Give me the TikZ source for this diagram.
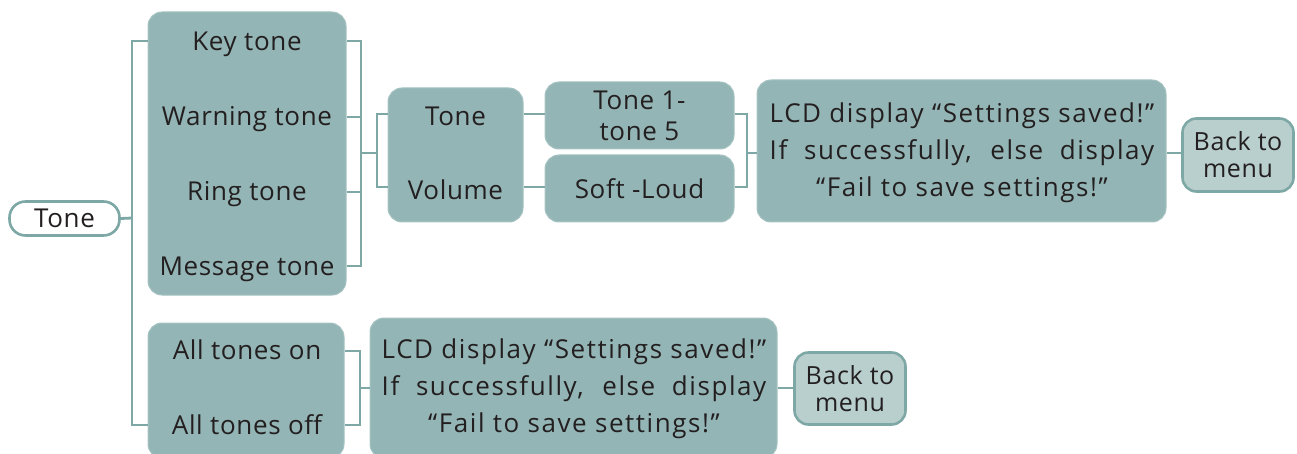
\documentclass[tikz,border=0pt]{standalone}
\usepackage{fontspec}
\setmainfont[LetterSpace=2.5]{Open Sans}
\newfontfamily\lcdfont[LetterSpace=6]{Open Sans}
\definecolor{boxfill}{RGB}{148,181,181}
\definecolor{boxedge}{RGB}{165,195,194}
\definecolor{lnc}{RGB}{125,168,165}
\definecolor{backfill}{RGB}{185,207,206}
\definecolor{txt}{RGB}{35,31,32}
\newlength\lcdw
\begin{document}
\settowidth\lcdw{\lcdfont\fontsize{26}{37}\selectfont LCD display “Settings saved!”}%
\begin{tikzpicture}[x=1pt,y=-1pt,
  conn/.style={draw=lnc,line width=2.8pt},
  menubox/.style={fill=boxfill,draw=boxedge,line width=1pt,rounded corners=14pt,inner sep=0pt},
  backbox/.style={fill=backfill,draw=lnc,line width=2.6pt,rounded corners=14pt,inner sep=0pt,
    align=center,text=txt,font=\fontsize{25}{27}\selectfont},
  rootbox/.style={fill=white,draw=lnc,line width=2.6pt,rounded corners=16pt,inner sep=0pt,
    text=txt,font=\fontsize{26}{27}\selectfont},
  lbl/.style={text=txt,font=\fontsize{26}{27}\selectfont,inner sep=0pt,anchor=base},
  mlbl/.style={text=txt,inner sep=0pt,align=center}]
\useasboundingbox (0,0) rectangle (1297,454);
\clip (0,0) rectangle (1297,454);
% boxes
\node[rootbox,minimum width=110pt,minimum height=34pt] (root) at (64.5,218.5) {Tone};
\node[menubox,minimum width=198pt,minimum height=283pt] (b1) at (247,153.5) {};
\node[menubox,minimum width=196pt,minimum height=135pt] (b2) at (246,390.5) {};
\node[menubox,minimum width=135pt,minimum height=134pt] (b3) at (455.5,155) {};
\node[menubox,minimum width=189pt,minimum height=67pt,mlbl,font=\fontsize{26}{31}\selectfont] (b4) at (639.5,115.5) {Tone 1-\\tone 5};
\node[menubox,minimum width=189pt,minimum height=67pt,text=txt,font=\fontsize{26}{27}\selectfont] (b5) at (639.5,188.5) {Soft -Loud};
\node[menubox,minimum width=409pt,minimum height=142pt] (b6) at (961.5,151) {};
\node[mlbl,font=\lcdfont\fontsize{26}{37}\selectfont] (t6) at (962,153)
  {LCD display “Settings saved!”\\\makebox[\lcdw][s]{If successfully, else display}\\“Fail to save settings!”};
\node[backbox,minimum width=111pt,minimum height=73pt] (bk1) at (1238,155) {Back to\\menu};
\node[menubox,minimum width=407pt,minimum height=140pt] (b7) at (573.5,388) {};
\node[mlbl,font=\lcdfont\fontsize{26}{37}\selectfont] (t7) at (574,389)
  {LCD display “Settings saved!”\\\makebox[\lcdw][s]{If successfully, else display}\\“Fail to save settings!”};
\node[backbox,minimum width=111pt,minimum height=72pt] (bk2) at (850,388.5) {Back to\\menu};
% labels
\node[lbl] (l1) at (247,51) {Key tone};
\node[lbl] (l2) at (247,126) {Warning tone};
\node[lbl] (l3) at (247,201) {Ring tone};
\node[lbl] (l4) at (247,275) {Message tone};
\node[lbl] (l5) at (247,359) {All tones on};
\node[lbl] (l6) at (247,434) {All tones off};
\node[lbl] (l7) at (455.5,126) {Tone};
\node[lbl] (l8) at (455.5,200) {Volume};
% row coordinates
\coordinate (y1) at (0,41);
\coordinate (y2) at (0,117);
\coordinate (y3) at (0,192);
\coordinate (y4) at (0,266);
\coordinate (y5) at (0,351);
\coordinate (y6) at (0,425);
\coordinate (ya) at (0,114);
\coordinate (yb) at (0,187);
\coordinate (j0) at (132,218);
\coordinate (j1) at (361,153);
\coordinate (j2) at (377,153);
\coordinate (j3) at (747,153);
\coordinate (j5) at (360,388);
% connectors
\draw[conn] (root.east) -- (j0);
\draw[conn] (b1.west |- y1) -| (j0) |- (b2.west |- y6);
\draw[conn] (b1.east |- y1) -| (j1) |- (b1.east |- y4);
\draw[conn] (b1.east |- y2) -- (j1 |- y2);
\draw[conn] (b1.east |- y3) -- (j1 |- y3);
\draw[conn] (j1) -- (j2);
\draw[conn] (b3.west |- ya) -| (j2) |- (b3.west |- yb);
\draw[conn] (b3.east |- ya) -- (b4.west |- ya);
\draw[conn] (b3.east |- yb) -- (b5.west |- yb);
\draw[conn] (b4.east |- ya) -| (j3) |- (b5.east |- yb);
\draw[conn] (j3) -- (b6.west |- j3);
\draw[conn] (b6.east |- j3) -- (bk1.west |- j3);
\draw[conn] (b2.east |- y5) -| (j5) |- (b2.east |- y6);
\draw[conn] (j5) -- (b7.west |- j5);
\draw[conn] (b7.east |- j5) -- (bk2.west |- j5);
\end{tikzpicture}
\end{document}
